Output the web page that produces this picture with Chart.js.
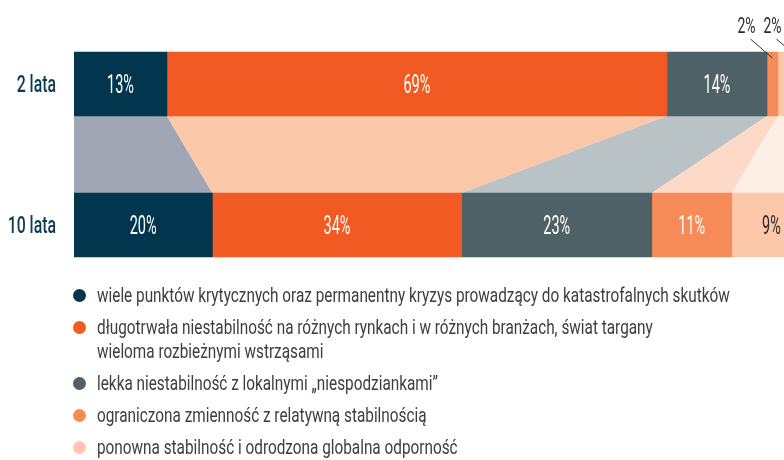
<!DOCTYPE html>
<html>
<head>
<meta charset="utf-8">
<script src="https://cdn.jsdelivr.net/npm/chart.js@4/dist/chart.umd.min.js"></script>
<style>
  html, body { margin: 0; padding: 0; background: #ffffff; }
  body { width: 784px; height: 460px; overflow: hidden; position: relative; }
  #wrap { position: absolute; left: 0; top: 0; width: 811px; height: 300px; }
  #legend { position: absolute; left: 73px; top: 283px; margin: 0; padding: 0; list-style: none;
    font-family: Roboto, sans-serif; font-size: 21px; line-height: 24px; color: #3d3d3d; white-space: nowrap; }
  #legend li { position: relative; padding-left: 24px; margin-bottom: 8px; }
  #legend li span.dot { position: absolute; left: 0; top: 5.5px; width: 13px; height: 13px; border-radius: 50%; }
  #legend li span.txt { display: inline-block; white-space: pre; transform-origin: 0 0; }
</style>
</head>
<body>
<div id="wrap"><canvas id="c" width="811" height="300" style="width:811px;height:300px"></canvas></div>
<ul id="legend"></ul>
<script>
const categories = ['2 lata', '10 lata'];
const seriesNames = [
  'wiele punktów krytycznych oraz permanentny kryzys prowadzący do katastrofalnych skutków',
  'długotrwała niestabilność na różnych rynkach i w różnych branżach, świat targany\nwieloma rozbieżnymi wstrząsami',
  'lekka niestabilność z lokalnymi „niespodziankami”',
  'ograniczona zmienność z relatywną stabilnością',
  'ponowna stabilność i odrodzona globalna odporność'
];
// segment lengths as drawn in the picture (printed labels below)
const values2y = [12.9, 69.4, 13.9, 1.5, 4.6];
const values10y = [19.2, 34.6, 26.4, 11.1, 11.0];
const labels2y = ['13%', '69%', '14%', '2%', '2%'];
const labels10y = ['20%', '34%', '23%', '11%', '9%'];
const barColors = ['#02364f', '#f15a22', '#4e6167', '#f78b58', '#fcc8a9'];
const tintColors = ['#a0a6b4', '#fbc9aa', '#b9c3c6', '#fddac7', '#fdefe5'];
const labelColors = ['#ffffff', '#ffffff', '#ffffff', '#ffffff', '#2b2b2b'];

const FONT = 'Roboto, sans-serif';
const valueLabels = [labels2y, labels10y];

function condensedText(ctx, text, x, y, font, color, align, sx) {
  ctx.save();
  ctx.font = font;
  ctx.fillStyle = color;
  ctx.textAlign = align;
  ctx.textBaseline = 'alphabetic';
  ctx.translate(x, y);
  ctx.scale(sx, 1);
  ctx.fillText(text, 0, 0);
  ctx.restore();
}

const connectorPlugin = {
  id: 'connectors',
  beforeDatasetsDraw(chart) {
    const ctx = chart.ctx;
    ctx.save();
    chart.data.datasets.forEach((ds, i) => {
      const meta = chart.getDatasetMeta(i);
      const a = meta.data[0], b = meta.data[1];
      if (!a || !b) return;
      const ya = a.y + a.height / 2, yb = b.y - b.height / 2;
      ctx.beginPath();
      ctx.moveTo(a.base, ya);
      ctx.lineTo(a.x, ya);
      ctx.lineTo(b.x, yb);
      ctx.lineTo(b.base, yb);
      ctx.closePath();
      ctx.fillStyle = tintColors[i];
      ctx.fill();
    });
    ctx.restore();
  }
};

const labelPlugin = {
  id: 'valueLabels',
  afterDatasetsDraw(chart) {
    const ctx = chart.ctx;
    const yScale = chart.scales.y;
    chart.data.labels.forEach((lab, j) => {
      const y = yScale.getPixelForValue(j);
      condensedText(ctx, lab, chart.chartArea.left - 18, y + 8, '500 24px ' + FONT, '#0e3a52', 'right', 0.66);
    });
    let outsideX = null;
    chart.data.datasets.forEach((ds, i) => {
      const meta = chart.getDatasetMeta(i);
      meta.data.forEach((el, j) => {
        const text = valueLabels[j][i];
        const w = el.x - el.base;
        const cx = (el.x + el.base) / 2;
        if (w > 30 && !(j === 0 && i >= 3)) {
          condensedText(ctx, text, cx, el.y + 9, '25px ' + FONT, labelColors[i], 'center', 0.58);
        } else {
          const top = el.y - el.height / 2;
          const lx = outsideX === null ? cx - 26 : outsideX + 26;
          outsideX = lx;
          condensedText(ctx, text, lx, top - 19, '22.5px ' + FONT, '#2b2b2b', 'center', 0.62);
          ctx.save();
          ctx.beginPath();
          ctx.strokeStyle = '#333333';
          ctx.lineWidth = 1;
          ctx.moveTo(lx + 4, top - 13);
          ctx.lineTo(lx + 26, top + 6);
          ctx.stroke();
          ctx.restore();
        }
      });
    });
  }
};

const htmlLegendPlugin = {
  id: 'htmlLegend',
  afterUpdate(chart) {
    const ul = document.getElementById('legend');
    ul.innerHTML = '';
    const items = chart.options.plugins.legend.labels.generateLabels(chart);
    items.forEach(item => {
      const li = document.createElement('li');
      const dot = document.createElement('span');
      dot.className = 'dot';
      dot.style.background = item.fillStyle;
      li.appendChild(dot);
      const txt = document.createElement('span');
      txt.className = 'txt';
      txt.style.transform = 'scaleX(0.73)';
      txt.textContent = item.text;
      li.appendChild(txt);
      ul.appendChild(li);
    });
  }
};

new Chart(document.getElementById('c'), {
  type: 'bar',
  data: {
    labels: categories,
    datasets: seriesNames.map((name, i) => ({
      label: name,
      data: [values2y[i], values10y[i]],
      backgroundColor: barColors[i],
      borderWidth: 0,
      barThickness: 64
    }))
  },
  options: {
    indexAxis: 'y',
    responsive: false,
    animation: false,
    devicePixelRatio: 1,
    layout: { padding: { top: 13.5, bottom: 4.5, left: 74, right: 0 } },
    scales: {
      x: { stacked: true, min: 0, max: 102.3, display: false },
      y: { stacked: true, display: false }
    },
    plugins: {
      legend: { display: false },
      tooltip: { enabled: false }
    }
  },
  plugins: [connectorPlugin, labelPlugin, htmlLegendPlugin]
});
</script>
</body>
</html>
